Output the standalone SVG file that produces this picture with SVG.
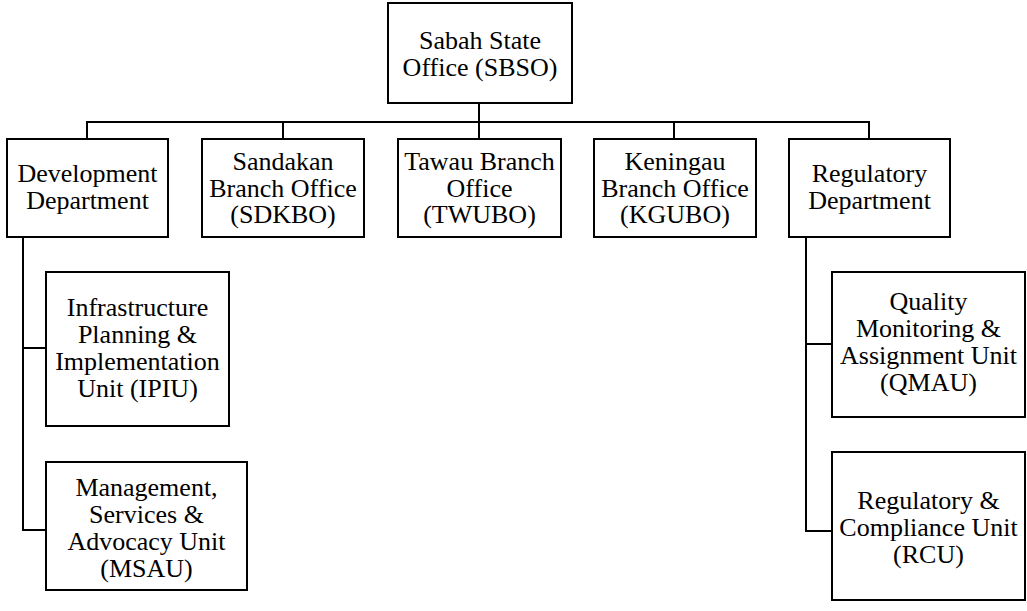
<svg xmlns="http://www.w3.org/2000/svg" width="1027" height="611" viewBox="0 0 1027 611">
<style>
.box{fill:#fff;stroke:#000;stroke-width:2}
.ln{fill:none;stroke:#000;stroke-width:2}
.t{font-family:'Liberation Serif','Times New Roman',serif;font-size:26px;fill:#000;text-anchor:middle}
</style>
<rect width="1027" height="611" fill="#fff"/>
<g id="connectors">
<path class="ln" d="M479,103 V139"/>
<path class="ln" d="M87,139 V122 H869 V139"/>
<path class="ln" d="M283,122 V139"/>
<path class="ln" d="M674,122 V139"/>
<path class="ln" d="M23,237 V530 H46"/>
<path class="ln" d="M23,348 H46"/>
<path class="ln" d="M806,237 V531 H832"/>
<path class="ln" d="M806,344 H832"/>
</g>
<g class="t">
<g id="sbso"><rect class="box" x="388" y="3" width="184" height="100"/>
<text x="480" y="49">Sabah State</text><text x="480" y="76">Office (SBSO)</text></g>
<g id="dev"><rect class="box" x="7" y="139" width="161" height="98"/>
<text x="87.5" y="182">Development</text><text x="87.5" y="209">Department</text></g>
<g id="sdkbo"><rect class="box" x="202" y="139" width="162" height="98"/>
<text x="283" y="170">Sandakan</text><text x="283" y="196.5">Branch Office</text><text x="283" y="223">(SDKBO)</text></g>
<g id="twubo"><rect class="box" x="398" y="139" width="163" height="98"/>
<text x="479.5" y="170">Tawau Branch</text><text x="479.5" y="196.5">Office</text><text x="479.5" y="223">(TWUBO)</text></g>
<g id="kgubo"><rect class="box" x="594" y="139" width="162" height="98"/>
<text x="675" y="170">Keningau</text><text x="675" y="196.5">Branch Office</text><text x="675" y="223">(KGUBO)</text></g>
<g id="reg"><rect class="box" x="789" y="139" width="161" height="98"/>
<text x="869.5" y="182">Regulatory</text><text x="869.5" y="209">Department</text></g>
<g id="ipiu"><rect class="box" x="46" y="272" width="183" height="154"/>
<text x="137.5" y="316">Infrastructure</text><text x="137.5" y="343">Planning &amp;</text><text x="137.5" y="370">Implementation</text><text x="137.5" y="397">Unit (IPIU)</text></g>
<g id="msau"><rect class="box" x="46" y="462" width="201" height="128"/>
<text x="146.5" y="496">Management,</text><text x="146.5" y="523">Services &amp;</text><text x="146.5" y="550">Advocacy Unit</text><text x="146.5" y="577">(MSAU)</text></g>
<g id="qmau"><rect class="box" x="832" y="272" width="193" height="145"/>
<text x="928.5" y="310">Quality</text><text x="928.5" y="337">Monitoring &amp;</text><text x="928.5" y="364">Assignment Unit</text><text x="928.5" y="391">(QMAU)</text></g>
<g id="rcu"><rect class="box" x="832" y="452" width="193" height="148"/>
<text x="928.5" y="509">Regulatory &amp;</text><text x="928.5" y="536">Compliance Unit</text><text x="928.5" y="563">(RCU)</text></g>
</g>
</svg>
